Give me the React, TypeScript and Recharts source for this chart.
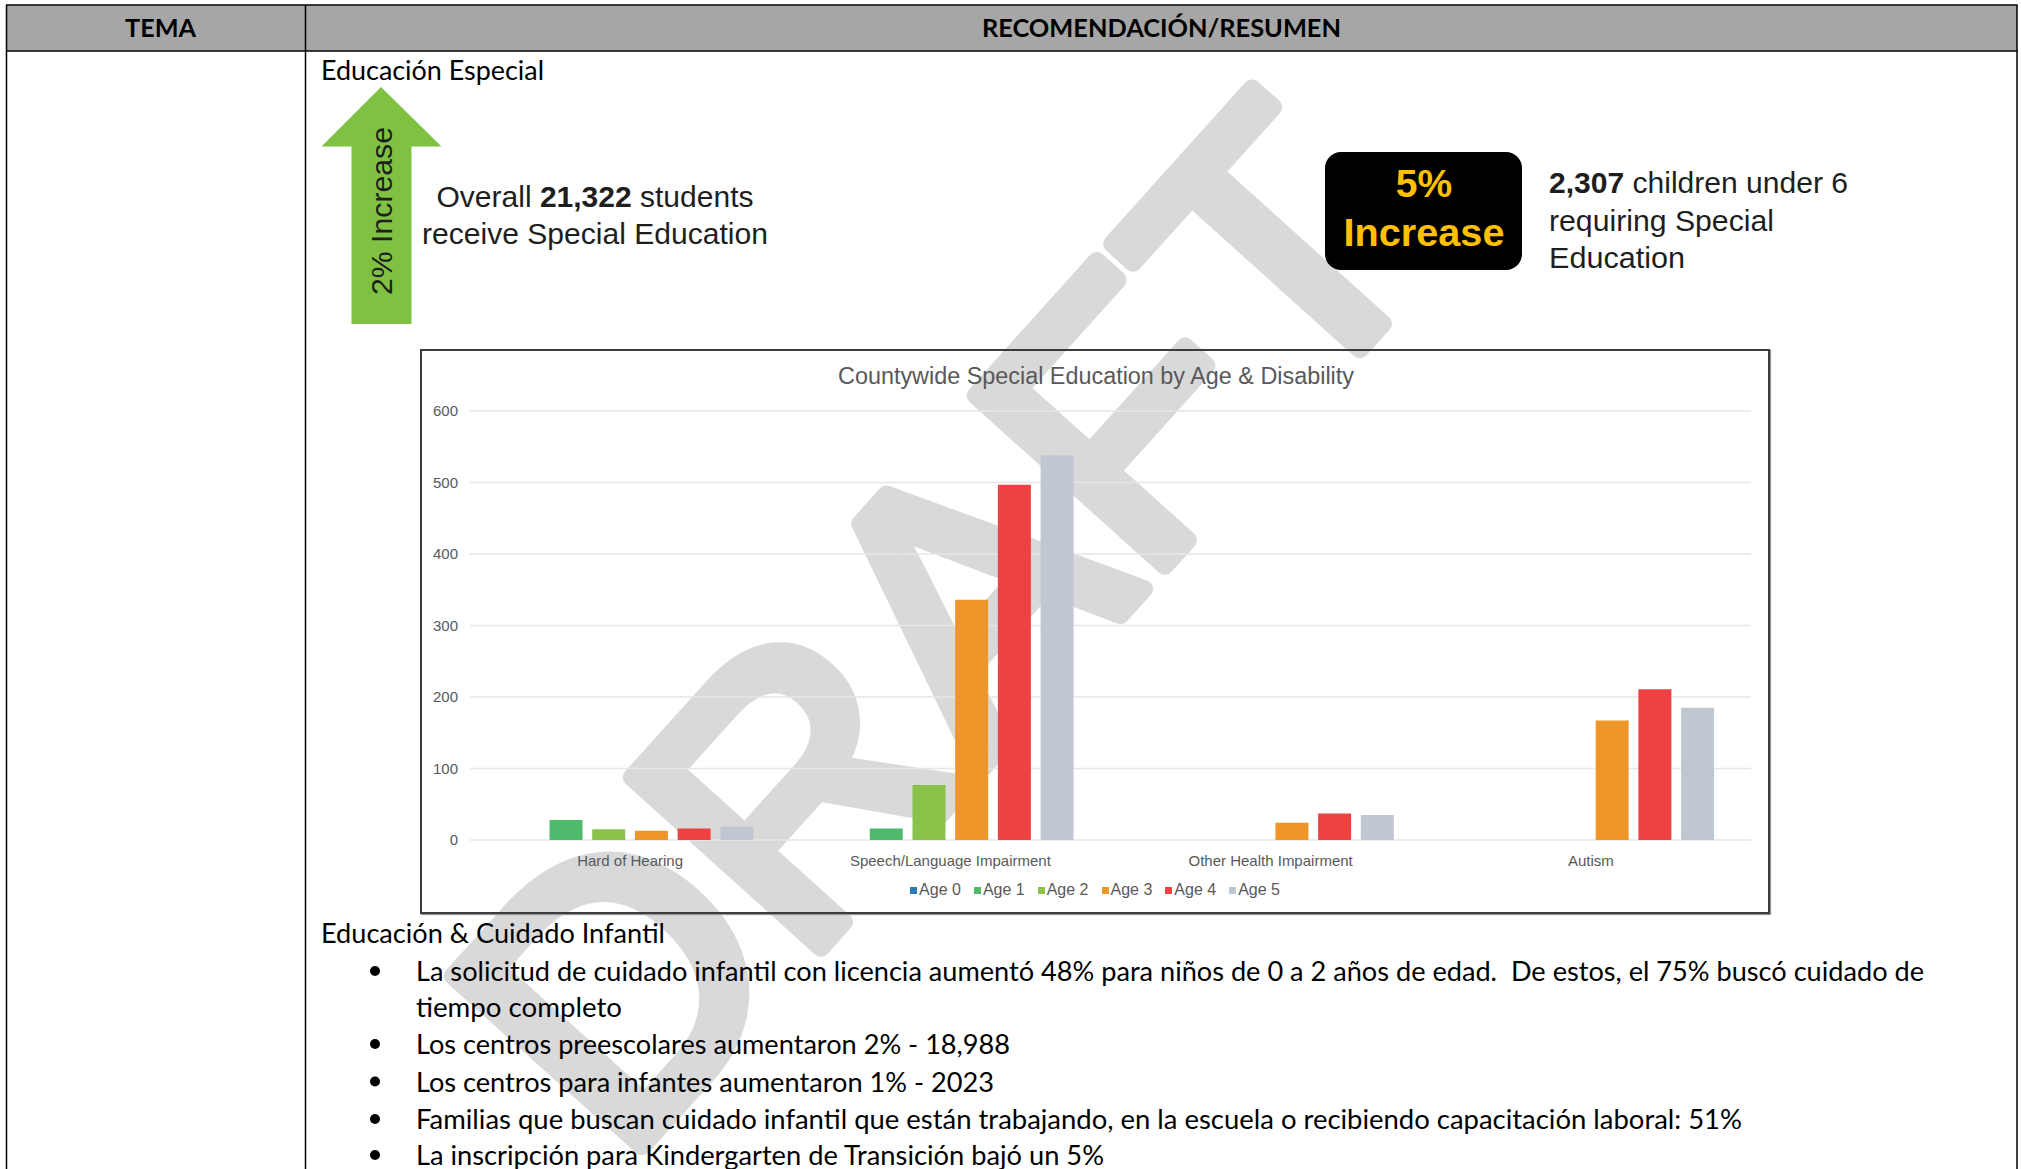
import React from 'react';
import { BarChart, Bar, XAxis, YAxis, CartesianGrid, Legend } from 'recharts';

// ---- chart data ----
const categories = ['Hard of Hearing', 'Speech/Language Impairment', 'Other Health Impairment', 'Autism'];
const age0 = [0, 0, 0, 0];
const age1 = [28, 16, 0, 0];
const age2 = [15, 77, 0, 0];
const age3 = [13, 336, 24, 167];
const age4 = [16, 497, 37, 211];
const age5 = [19, 538, 35, 185];
const seriesNames = ['Age 0', 'Age 1', 'Age 2', 'Age 3', 'Age 4', 'Age 5'];
const seriesKeys = ['a0', 'a1', 'a2', 'a3', 'a4', 'a5'];
const seriesColors = ['#2A7DB8', '#4DBA6C', '#8BC34A', '#EF962B', '#EE4141', '#C1C7D1'];
const yTicks = [0, 100, 200, 300, 400, 500, 600];
const chartTitle = 'Countywide Special Education by Age & Disability';

// ---- document text ----
const headerLeft = 'TEMA';
const headerRight = 'RECOMENDACIÓN/RESUMEN';
const section1 = 'Educación Especial';
const section2 = 'Educación & Cuidado Infantil';
const bulletLines = [
  'La solicitud de cuidado infantil con licencia aumentó 48% para niños de 0 a 2 años de edad.  De estos, el 75% buscó cuidado de',
  'tiempo completo',
  'Los centros preescolares aumentaron 2% - 18,988',
  'Los centros para infantes aumentaron 1% - 2023',
  'Familias que buscan cuidado infantil que están trabajando, en la escuela o recibiendo capacitación laboral: 51%',
  'La inscripción para Kindergarten de Transición bajó un 5%',
];
const bulletHasDot = [true, false, true, true, true, true];
const bulletY = [971, 1007, 1044, 1081.5, 1119, 1155];
const bulletW = [1508, 206, 594, 578, 1326, 688];

const data = categories.map((name, i) => ({
  name,
  a0: age0[i],
  a1: age1[i],
  a2: age2[i],
  a3: age3[i],
  a4: age4[i],
  a5: age5[i],
}));

const arial = '"Liberation Sans", Arial, sans-serif';
const lato = 'Lato, "Open Sans", sans-serif';

const LegendContent = () => (
  <div
    style={{
      width: '100%',
      height: 20,
      display: 'flex',
      justifyContent: 'center',
      alignItems: 'center',
      fontFamily: arial,
      fontSize: 16,
      color: '#595959',
    }}
  >
    {seriesNames.map((n, i) => (
      <div key={n} style={{ display: 'flex', alignItems: 'center', marginRight: i < seriesNames.length - 1 ? 13 : 0 }}>
        <div style={{ width: 7, height: 7, background: seriesColors[i], marginRight: 2 }} />
        <span>{n}</span>
      </div>
    ))}
  </div>
);

export default function App() {
  const wmSize = 370;
  return (
    <div style={{ position: 'absolute', left: 0, top: 0, width: 2021, height: 1169, background: '#fff', overflow: 'hidden' }}>
      {/* background layer: watermark */}
      <svg width={2021} height={1169} style={{ position: 'absolute', left: 0, top: 0 }}>
        <text
          transform="translate(936,622) rotate(-48)"
          x={0}
          y={wmSize * 0.358}
          textAnchor="middle"
          fontFamily={arial}
          fontSize={wmSize}
          fill="#d9d9d9"
          stroke="#d9d9d9"
          strokeWidth={18}
          strokeLinejoin="round"
          strokeLinecap="round"
        >
          DRAFT
        </text>
      </svg>

      {/* chart box */}
      <div
        style={{
          position: 'absolute',
          left: 420,
          top: 349,
          width: 1350,
          height: 565,
          boxSizing: 'border-box',
          border: '2px solid #3c3c3c',
          boxShadow: '1px 1px 1px #999',
        }}
      />
      <div style={{ position: 'absolute', left: 420, top: 349, width: 1350, height: 565, fontFamily: arial }}>
        <BarChart
          width={1350}
          height={565}
          data={data}
          margin={{ top: 62, right: 19, bottom: 14, left: 10 }}
          barCategoryGap="11.5%"
          barGap={9.7}
        >
          <CartesianGrid vertical={false} stroke="#e6e6e6" strokeWidth={1.5} />
          <XAxis
            dataKey="name"
            axisLine={false}
            tickLine={false}
            height={40}
            tickMargin={9}
            interval={0}
            tick={{ fill: '#595959', fontSize: 15 }}
          />
          <YAxis
            domain={[0, 600]}
            ticks={yTicks}
            width={40}
            axisLine={false}
            tickLine={false}
            tickMargin={6}
            tick={{ fill: '#595959', fontSize: 15 }}
          />
          <Legend verticalAlign="bottom" wrapperStyle={{ left: 0, width: 1350, bottom: 14 }} content={<LegendContent />} />
          {seriesKeys.map((k, i) => (
            <Bar key={k} dataKey={k} name={seriesNames[i]} fill={seriesColors[i]} isAnimationActive={false} />
          ))}
        </BarChart>
      </div>

      {/* foreground layer: table, text, callouts */}
      <svg width={2021} height={1169} style={{ position: 'absolute', left: 0, top: 0, pointerEvents: 'none' }}>
        <rect x={6.5} y={5} width={2010.5} height={46} fill="#a6a6a6" />
        <g stroke="#000" strokeWidth={1.5}>
          <line x1={6} y1={5} x2={2017.5} y2={5} />
          <line x1={6} y1={51} x2={2017.5} y2={51} />
          <line x1={6.5} y1={5} x2={6.5} y2={1169} />
          <line x1={305.5} y1={5} x2={305.5} y2={1169} />
          <line x1={2017} y1={5} x2={2017} y2={1169} />
        </g>
        <text x={160.5} y={27} textAnchor="middle" dominantBaseline="central" fontFamily={lato} fontWeight="bold" fontSize={25} textLength={71} lengthAdjust="spacingAndGlyphs">
          {headerLeft}
        </text>
        <text x={1161.5} y={27} textAnchor="middle" dominantBaseline="central" fontFamily={lato} fontWeight="bold" fontSize={25} textLength={359} lengthAdjust="spacingAndGlyphs">
          {headerRight}
        </text>

        <text x={321} y={69.5} dominantBaseline="central" fontFamily={lato} fontSize={26} textLength={223} lengthAdjust="spacingAndGlyphs">
          {section1}
        </text>

        {/* green arrow */}
        <polygon points="381,87 441.5,146.5 411.5,146.5 411.5,324 351.5,324 351.5,146.5 321.5,146.5" fill="#7FC243" />
        <text
          transform="translate(382,211) rotate(-90)"
          x={0}
          y={0}
          textAnchor="middle"
          dominantBaseline="central"
          fontFamily={arial}
          fontSize={29}
          fill="#1e1e1e"
          textLength={168}
          lengthAdjust="spacingAndGlyphs"
        >
          2% Increase
        </text>

        <text x={595} y={196} textAnchor="middle" dominantBaseline="central" fontFamily={arial} fontSize={30} fill="#1e1e1e" textLength={317} lengthAdjust="spacingAndGlyphs">
          Overall <tspan fontWeight="bold">21,322</tspan> students
        </text>
        <text x={595} y={233} textAnchor="middle" dominantBaseline="central" fontFamily={arial} fontSize={30} fill="#1e1e1e" textLength={346} lengthAdjust="spacingAndGlyphs">
          receive Special Education
        </text>

        {/* black callout */}
        <rect x={1325} y={152} width={197} height={118} rx={16} fill="#000" />
        <text x={1424} y={183} textAnchor="middle" dominantBaseline="central" fontFamily={arial} fontWeight="bold" fontSize={39} fill="#FFC000">
          5%
        </text>
        <text x={1424} y={232} textAnchor="middle" dominantBaseline="central" fontFamily={arial} fontWeight="bold" fontSize={39} fill="#FFC000" textLength={161} lengthAdjust="spacingAndGlyphs">
          Increase
        </text>
        <text x={1549} y={182} dominantBaseline="central" fontFamily={arial} fontSize={30} fill="#1e1e1e" textLength={299} lengthAdjust="spacingAndGlyphs">
          <tspan fontWeight="bold">2,307</tspan> children under 6
        </text>
        <text x={1549} y={220} dominantBaseline="central" fontFamily={arial} fontSize={30} fill="#1e1e1e" textLength={225} lengthAdjust="spacingAndGlyphs">
          requiring Special
        </text>
        <text x={1549} y={257} dominantBaseline="central" fontFamily={arial} fontSize={30} fill="#1e1e1e" textLength={136} lengthAdjust="spacingAndGlyphs">
          Education
        </text>

        {/* chart title */}
        <text x={1096} y={376} textAnchor="middle" dominantBaseline="central" fontFamily={arial} fontSize={23} fill="#595959" textLength={516} lengthAdjust="spacingAndGlyphs">
          {chartTitle}
        </text>

        <text x={321} y={933} dominantBaseline="central" fontFamily={lato} fontSize={26} textLength={344} lengthAdjust="spacingAndGlyphs">
          {section2}
        </text>
        {bulletLines.map((t, i) => (
          <g key={i}>
            {bulletHasDot[i] && <circle cx={375} cy={bulletY[i]} r={5} fill="#000" />}
            <text x={416} y={bulletY[i]} dominantBaseline="central" fontFamily={lato} fontSize={26} textLength={bulletW[i]} lengthAdjust="spacingAndGlyphs" style={{ whiteSpace: 'pre' }}>
              {t}
            </text>
          </g>
        ))}
      </svg>
    </div>
  );
}
